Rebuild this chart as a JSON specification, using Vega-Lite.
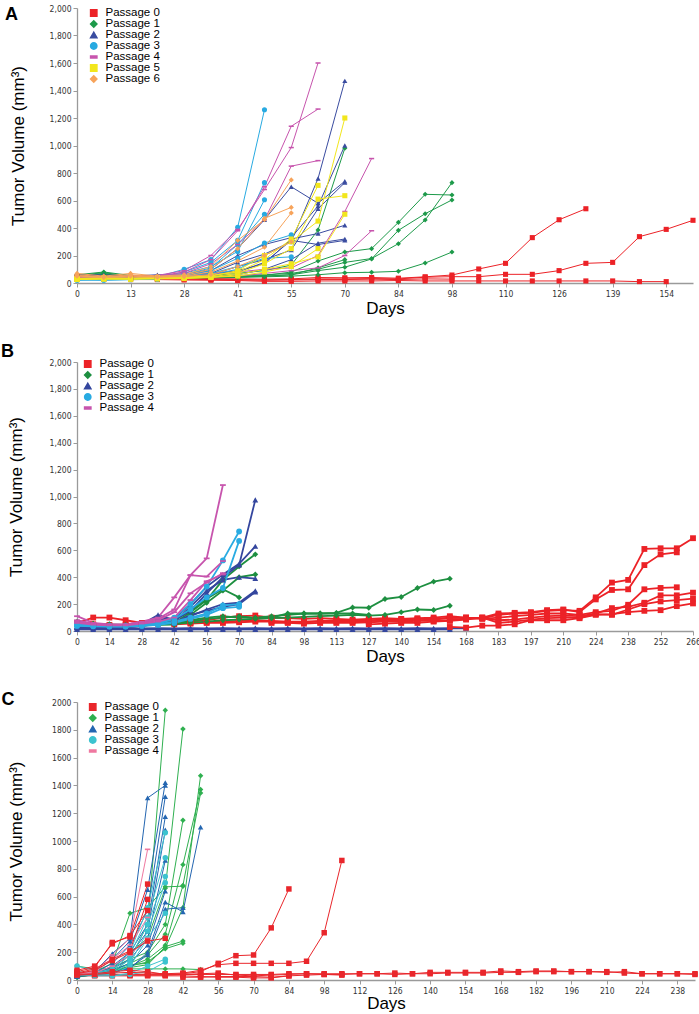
{
"$schema":"https://vega.github.io/schema/vega-lite/v6.json",
"padding":{"left":1,"top":4,"right":4,"bottom":0},
"background":"white",
"config":{"font":"Liberation Sans","view":{"stroke":null},
"axis":{"domainColor":"#9a9a9a","domainWidth":1.3,"tickColor":"#9a9a9a","tickSize":4,"labelFontSize":8.5,"labelColor":"#333","labelFont":"Liberation Sans Narrow, DejaVu Sans Condensed, Liberation Sans","titleFontSize":17,"titleFont":"Liberation Sans","titleFontWeight":"normal","titleColor":"#000","grid":false,"labelPadding":2},
"legend":{"labelFontSize":11.5,"labelFont":"Liberation Sans","labelColor":"#000","symbolSize":40,"rowPadding":-1,"clipHeight":10,"padding":0,"labelOffset":6,"orient":"none"},
"title":{"fontSize":18,"fontWeight":"bold","anchor":"start","frame":"bounds","color":"#000"}},
"spacing":26,
"resolve":{"scale":{"color":"independent","shape":"independent"},"legend":{"color":"independent","shape":"independent"}},
"datasets":{
"A":[
{"s":"r1","p":0,"d":0,"v":45},{"s":"r1","p":0,"d":7,"v":40},{"s":"r1","p":0,"d":13,"v":38},{"s":"r1","p":0,"d":20,"v":40},{"s":"r1","p":0,"d":28,"v":35},{"s":"r1","p":0,"d":35,"v":32},{"s":"r1","p":0,"d":41,"v":30},{"s":"r1","p":0,"d":48,"v":28},{"s":"r1","p":0,"d":55,"v":30},{"s":"r1","p":0,"d":63,"v":40},{"s":"r1","p":0,"d":70,"v":38},{"s":"r1","p":0,"d":77,"v":40},{"s":"r1","p":0,"d":84,"v":35},{"s":"r1","p":0,"d":91,"v":45},{"s":"r1","p":0,"d":98,"v":58},{"s":"r1","p":0,"d":105,"v":102},{"s":"r1","p":0,"d":110,"v":143},{"s":"r1","p":0,"d":118,"v":330},{"s":"r1","p":0,"d":126,"v":460},{"s":"r1","p":0,"d":133,"v":540},
{"s":"r2","p":0,"d":0,"v":40},{"s":"r2","p":0,"d":7,"v":35},{"s":"r2","p":0,"d":13,"v":32},{"s":"r2","p":0,"d":20,"v":35},{"s":"r2","p":0,"d":28,"v":30},{"s":"r2","p":0,"d":35,"v":28},{"s":"r2","p":0,"d":41,"v":25},{"s":"r2","p":0,"d":48,"v":22},{"s":"r2","p":0,"d":55,"v":25},{"s":"r2","p":0,"d":63,"v":30},{"s":"r2","p":0,"d":70,"v":30},{"s":"r2","p":0,"d":77,"v":32},{"s":"r2","p":0,"d":84,"v":30},{"s":"r2","p":0,"d":91,"v":42},{"s":"r2","p":0,"d":98,"v":46},{"s":"r2","p":0,"d":105,"v":46},{"s":"r2","p":0,"d":110,"v":63},{"s":"r2","p":0,"d":118,"v":63},{"s":"r2","p":0,"d":126,"v":90},{"s":"r2","p":0,"d":133,"v":143},{"s":"r2","p":0,"d":139,"v":150},{"s":"r2","p":0,"d":147,"v":337},{"s":"r2","p":0,"d":154,"v":390},{"s":"r2","p":0,"d":161,"v":456},
{"s":"r3","p":0,"d":0,"v":30},{"s":"r3","p":0,"d":7,"v":28},{"s":"r3","p":0,"d":13,"v":25},{"s":"r3","p":0,"d":20,"v":25},{"s":"r3","p":0,"d":28,"v":22},{"s":"r3","p":0,"d":35,"v":20},{"s":"r3","p":0,"d":41,"v":18},{"s":"r3","p":0,"d":48,"v":12},{"s":"r3","p":0,"d":55,"v":12},{"s":"r3","p":0,"d":63,"v":15},{"s":"r3","p":0,"d":70,"v":15},{"s":"r3","p":0,"d":77,"v":15},{"s":"r3","p":0,"d":84,"v":18},{"s":"r3","p":0,"d":91,"v":15},{"s":"r3","p":0,"d":98,"v":15},{"s":"r3","p":0,"d":105,"v":15},{"s":"r3","p":0,"d":110,"v":15},{"s":"r3","p":0,"d":118,"v":15},{"s":"r3","p":0,"d":126,"v":15},{"s":"r3","p":0,"d":133,"v":15},{"s":"r3","p":0,"d":139,"v":15},{"s":"r3","p":0,"d":147,"v":10},{"s":"r3","p":0,"d":154,"v":10},
{"s":"r4","p":0,"d":0,"v":35},{"s":"r4","p":0,"d":7,"v":30},{"s":"r4","p":0,"d":13,"v":30},{"s":"r4","p":0,"d":20,"v":30},{"s":"r4","p":0,"d":28,"v":28},{"s":"r4","p":0,"d":35,"v":25},{"s":"r4","p":0,"d":41,"v":22},{"s":"r4","p":0,"d":48,"v":20},{"s":"r4","p":0,"d":55,"v":22},{"s":"r4","p":0,"d":63,"v":25},{"s":"r4","p":0,"d":70,"v":25},{"s":"r4","p":0,"d":77,"v":28},{"s":"r4","p":0,"d":84,"v":25},{"s":"r4","p":0,"d":91,"v":30},{"s":"r4","p":0,"d":98,"v":28},
{"s":"g1","p":1,"d":0,"v":60},{"s":"g1","p":1,"d":7,"v":80},{"s":"g1","p":1,"d":13,"v":55},{"s":"g1","p":1,"d":20,"v":50},{"s":"g1","p":1,"d":28,"v":45},{"s":"g1","p":1,"d":35,"v":50},{"s":"g1","p":1,"d":41,"v":55},{"s":"g1","p":1,"d":48,"v":60},{"s":"g1","p":1,"d":55,"v":70},{"s":"g1","p":1,"d":63,"v":100},{"s":"g1","p":1,"d":70,"v":150},{"s":"g1","p":1,"d":77,"v":178},{"s":"g1","p":1,"d":84,"v":286},{"s":"g1","p":1,"d":91,"v":458},{"s":"g1","p":1,"d":98,"v":730},
{"s":"g2","p":1,"d":0,"v":55},{"s":"g2","p":1,"d":7,"v":75},{"s":"g2","p":1,"d":13,"v":50},{"s":"g2","p":1,"d":20,"v":45},{"s":"g2","p":1,"d":28,"v":40},{"s":"g2","p":1,"d":35,"v":45},{"s":"g2","p":1,"d":41,"v":50},{"s":"g2","p":1,"d":48,"v":55},{"s":"g2","p":1,"d":55,"v":80},{"s":"g2","p":1,"d":63,"v":160},{"s":"g2","p":1,"d":70,"v":225},{"s":"g2","p":1,"d":77,"v":250},{"s":"g2","p":1,"d":84,"v":441},{"s":"g2","p":1,"d":91,"v":645},{"s":"g2","p":1,"d":98,"v":640},
{"s":"g3","p":1,"d":0,"v":50},{"s":"g3","p":1,"d":7,"v":70},{"s":"g3","p":1,"d":13,"v":48},{"s":"g3","p":1,"d":20,"v":42},{"s":"g3","p":1,"d":28,"v":38},{"s":"g3","p":1,"d":35,"v":40},{"s":"g3","p":1,"d":41,"v":45},{"s":"g3","p":1,"d":48,"v":50},{"s":"g3","p":1,"d":55,"v":60},{"s":"g3","p":1,"d":63,"v":90},{"s":"g3","p":1,"d":70,"v":115},{"s":"g3","p":1,"d":77,"v":175},{"s":"g3","p":1,"d":84,"v":383},{"s":"g3","p":1,"d":91,"v":504},{"s":"g3","p":1,"d":98,"v":604},
{"s":"g4","p":1,"d":0,"v":45},{"s":"g4","p":1,"d":7,"v":60},{"s":"g4","p":1,"d":13,"v":45},{"s":"g4","p":1,"d":20,"v":40},{"s":"g4","p":1,"d":28,"v":35},{"s":"g4","p":1,"d":35,"v":38},{"s":"g4","p":1,"d":41,"v":40},{"s":"g4","p":1,"d":48,"v":45},{"s":"g4","p":1,"d":55,"v":50},{"s":"g4","p":1,"d":63,"v":60},{"s":"g4","p":1,"d":70,"v":75},{"s":"g4","p":1,"d":77,"v":78},{"s":"g4","p":1,"d":84,"v":85},{"s":"g4","p":1,"d":91,"v":145},{"s":"g4","p":1,"d":98,"v":225},
{"s":"g5","p":1,"d":0,"v":50},{"s":"g5","p":1,"d":7,"v":65},{"s":"g5","p":1,"d":13,"v":50},{"s":"g5","p":1,"d":20,"v":45},{"s":"g5","p":1,"d":28,"v":45},{"s":"g5","p":1,"d":35,"v":55},{"s":"g5","p":1,"d":41,"v":70},{"s":"g5","p":1,"d":48,"v":90},{"s":"g5","p":1,"d":55,"v":130},{"s":"g5","p":1,"d":63,"v":385},{"s":"g5","p":1,"d":70,"v":980},
{"s":"g6","p":1,"d":0,"v":40},{"s":"g6","p":1,"d":7,"v":55},{"s":"g6","p":1,"d":13,"v":42},{"s":"g6","p":1,"d":20,"v":40},{"s":"g6","p":1,"d":28,"v":38},{"s":"g6","p":1,"d":35,"v":40},{"s":"g6","p":1,"d":41,"v":45},{"s":"g6","p":1,"d":48,"v":50},{"s":"g6","p":1,"d":55,"v":60},{"s":"g6","p":1,"d":63,"v":110},{"s":"g6","p":1,"d":70,"v":170},
{"s":"b1","p":2,"d":0,"v":55},{"s":"b1","p":2,"d":7,"v":60},{"s":"b1","p":2,"d":13,"v":50},{"s":"b1","p":2,"d":20,"v":55},{"s":"b1","p":2,"d":28,"v":50},{"s":"b1","p":2,"d":35,"v":70},{"s":"b1","p":2,"d":41,"v":150},{"s":"b1","p":2,"d":48,"v":210},{"s":"b1","p":2,"d":55,"v":300},{"s":"b1","p":2,"d":63,"v":760},{"s":"b1","p":2,"d":70,"v":1470},
{"s":"b2","p":2,"d":0,"v":60},{"s":"b2","p":2,"d":7,"v":55},{"s":"b2","p":2,"d":13,"v":50},{"s":"b2","p":2,"d":20,"v":60},{"s":"b2","p":2,"d":28,"v":55},{"s":"b2","p":2,"d":35,"v":90},{"s":"b2","p":2,"d":41,"v":200},{"s":"b2","p":2,"d":48,"v":280},{"s":"b2","p":2,"d":55,"v":330},{"s":"b2","p":2,"d":63,"v":560},{"s":"b2","p":2,"d":70,"v":1000},
{"s":"b3","p":2,"d":0,"v":50},{"s":"b3","p":2,"d":7,"v":55},{"s":"b3","p":2,"d":13,"v":45},{"s":"b3","p":2,"d":20,"v":55},{"s":"b3","p":2,"d":28,"v":60},{"s":"b3","p":2,"d":35,"v":100},{"s":"b3","p":2,"d":41,"v":250},{"s":"b3","p":2,"d":48,"v":460},{"s":"b3","p":2,"d":55,"v":700},{"s":"b3","p":2,"d":63,"v":580},{"s":"b3","p":2,"d":70,"v":740},
{"s":"b4","p":2,"d":0,"v":45},{"s":"b4","p":2,"d":7,"v":50},{"s":"b4","p":2,"d":13,"v":42},{"s":"b4","p":2,"d":20,"v":50},{"s":"b4","p":2,"d":28,"v":45},{"s":"b4","p":2,"d":35,"v":60},{"s":"b4","p":2,"d":41,"v":120},{"s":"b4","p":2,"d":48,"v":170},{"s":"b4","p":2,"d":55,"v":240},{"s":"b4","p":2,"d":63,"v":540},{"s":"b4","p":2,"d":70,"v":730},
{"s":"b5","p":2,"d":0,"v":52},{"s":"b5","p":2,"d":7,"v":48},{"s":"b5","p":2,"d":13,"v":45},{"s":"b5","p":2,"d":20,"v":48},{"s":"b5","p":2,"d":28,"v":50},{"s":"b5","p":2,"d":35,"v":65},{"s":"b5","p":2,"d":41,"v":90},{"s":"b5","p":2,"d":48,"v":140},{"s":"b5","p":2,"d":55,"v":320},{"s":"b5","p":2,"d":63,"v":360},{"s":"b5","p":2,"d":70,"v":420},
{"s":"b6","p":2,"d":0,"v":40},{"s":"b6","p":2,"d":7,"v":45},{"s":"b6","p":2,"d":13,"v":40},{"s":"b6","p":2,"d":20,"v":42},{"s":"b6","p":2,"d":28,"v":40},{"s":"b6","p":2,"d":35,"v":50},{"s":"b6","p":2,"d":41,"v":60},{"s":"b6","p":2,"d":48,"v":100},{"s":"b6","p":2,"d":55,"v":170},{"s":"b6","p":2,"d":63,"v":290},{"s":"b6","p":2,"d":70,"v":320},
{"s":"b7","p":2,"d":0,"v":48},{"s":"b7","p":2,"d":7,"v":52},{"s":"b7","p":2,"d":13,"v":44},{"s":"b7","p":2,"d":20,"v":46},{"s":"b7","p":2,"d":28,"v":55},{"s":"b7","p":2,"d":35,"v":75},{"s":"b7","p":2,"d":41,"v":80},{"s":"b7","p":2,"d":48,"v":150},{"s":"b7","p":2,"d":55,"v":310},{"s":"b7","p":2,"d":63,"v":280},{"s":"b7","p":2,"d":70,"v":310},
{"s":"c1","p":3,"d":0,"v":30},{"s":"c1","p":3,"d":7,"v":25},{"s":"c1","p":3,"d":13,"v":35},{"s":"c1","p":3,"d":20,"v":45},{"s":"c1","p":3,"d":28,"v":100},{"s":"c1","p":3,"d":35,"v":170},{"s":"c1","p":3,"d":41,"v":405},{"s":"c1","p":3,"d":48,"v":1260},
{"s":"c2","p":3,"d":0,"v":40},{"s":"c2","p":3,"d":7,"v":30},{"s":"c2","p":3,"d":13,"v":40},{"s":"c2","p":3,"d":20,"v":40},{"s":"c2","p":3,"d":28,"v":80},{"s":"c2","p":3,"d":35,"v":150},{"s":"c2","p":3,"d":41,"v":310},{"s":"c2","p":3,"d":48,"v":730},
{"s":"c3","p":3,"d":0,"v":35},{"s":"c3","p":3,"d":7,"v":30},{"s":"c3","p":3,"d":13,"v":35},{"s":"c3","p":3,"d":20,"v":40},{"s":"c3","p":3,"d":28,"v":70},{"s":"c3","p":3,"d":35,"v":120},{"s":"c3","p":3,"d":41,"v":230},{"s":"c3","p":3,"d":48,"v":605},
{"s":"c4","p":3,"d":0,"v":25},{"s":"c4","p":3,"d":7,"v":28},{"s":"c4","p":3,"d":13,"v":30},{"s":"c4","p":3,"d":20,"v":35},{"s":"c4","p":3,"d":28,"v":60},{"s":"c4","p":3,"d":35,"v":110},{"s":"c4","p":3,"d":41,"v":280},{"s":"c4","p":3,"d":48,"v":500},
{"s":"c5","p":3,"d":0,"v":20},{"s":"c5","p":3,"d":7,"v":25},{"s":"c5","p":3,"d":13,"v":28},{"s":"c5","p":3,"d":20,"v":30},{"s":"c5","p":3,"d":28,"v":55},{"s":"c5","p":3,"d":35,"v":90},{"s":"c5","p":3,"d":41,"v":180},{"s":"c5","p":3,"d":48,"v":290},{"s":"c5","p":3,"d":55,"v":350},
{"s":"c6","p":3,"d":0,"v":28},{"s":"c6","p":3,"d":7,"v":22},{"s":"c6","p":3,"d":13,"v":26},{"s":"c6","p":3,"d":20,"v":32},{"s":"c6","p":3,"d":28,"v":50},{"s":"c6","p":3,"d":35,"v":70},{"s":"c6","p":3,"d":41,"v":120},{"s":"c6","p":3,"d":48,"v":180},{"s":"c6","p":3,"d":55,"v":190},
{"s":"c7","p":3,"d":0,"v":22},{"s":"c7","p":3,"d":7,"v":20},{"s":"c7","p":3,"d":13,"v":24},{"s":"c7","p":3,"d":20,"v":28},{"s":"c7","p":3,"d":28,"v":45},{"s":"c7","p":3,"d":35,"v":60},{"s":"c7","p":3,"d":41,"v":100},{"s":"c7","p":3,"d":48,"v":200},{"s":"c7","p":3,"d":55,"v":300},
{"s":"p1","p":4,"d":0,"v":50},{"s":"p1","p":4,"d":7,"v":45},{"s":"p1","p":4,"d":13,"v":50},{"s":"p1","p":4,"d":20,"v":55},{"s":"p1","p":4,"d":28,"v":90},{"s":"p1","p":4,"d":35,"v":200},{"s":"p1","p":4,"d":41,"v":390},{"s":"p1","p":4,"d":48,"v":680},{"s":"p1","p":4,"d":55,"v":985},{"s":"p1","p":4,"d":63,"v":1600},
{"s":"p2","p":4,"d":0,"v":45},{"s":"p2","p":4,"d":7,"v":40},{"s":"p2","p":4,"d":13,"v":45},{"s":"p2","p":4,"d":20,"v":50},{"s":"p2","p":4,"d":28,"v":80},{"s":"p2","p":4,"d":35,"v":170},{"s":"p2","p":4,"d":41,"v":380},{"s":"p2","p":4,"d":48,"v":700},{"s":"p2","p":4,"d":55,"v":1140},{"s":"p2","p":4,"d":63,"v":1265},
{"s":"p3","p":4,"d":0,"v":40},{"s":"p3","p":4,"d":7,"v":38},{"s":"p3","p":4,"d":13,"v":42},{"s":"p3","p":4,"d":20,"v":48},{"s":"p3","p":4,"d":28,"v":70},{"s":"p3","p":4,"d":35,"v":140},{"s":"p3","p":4,"d":41,"v":280},{"s":"p3","p":4,"d":48,"v":460},{"s":"p3","p":4,"d":55,"v":850},{"s":"p3","p":4,"d":63,"v":890},
{"s":"p4","p":4,"d":0,"v":35},{"s":"p4","p":4,"d":7,"v":35},{"s":"p4","p":4,"d":13,"v":38},{"s":"p4","p":4,"d":20,"v":40},{"s":"p4","p":4,"d":28,"v":45},{"s":"p4","p":4,"d":35,"v":60},{"s":"p4","p":4,"d":41,"v":80},{"s":"p4","p":4,"d":48,"v":100},{"s":"p4","p":4,"d":55,"v":110},{"s":"p4","p":4,"d":63,"v":200},{"s":"p4","p":4,"d":70,"v":520},{"s":"p4","p":4,"d":77,"v":905},
{"s":"p5","p":4,"d":0,"v":30},{"s":"p5","p":4,"d":7,"v":32},{"s":"p5","p":4,"d":13,"v":35},{"s":"p5","p":4,"d":20,"v":38},{"s":"p5","p":4,"d":28,"v":40},{"s":"p5","p":4,"d":35,"v":45},{"s":"p5","p":4,"d":41,"v":50},{"s":"p5","p":4,"d":48,"v":70},{"s":"p5","p":4,"d":55,"v":90},{"s":"p5","p":4,"d":63,"v":110},{"s":"p5","p":4,"d":70,"v":200},{"s":"p5","p":4,"d":77,"v":380},
{"s":"y1","p":5,"d":0,"v":35},{"s":"y1","p":5,"d":7,"v":38},{"s":"y1","p":5,"d":13,"v":36},{"s":"y1","p":5,"d":20,"v":40},{"s":"y1","p":5,"d":28,"v":42},{"s":"y1","p":5,"d":35,"v":50},{"s":"y1","p":5,"d":41,"v":90},{"s":"y1","p":5,"d":48,"v":200},{"s":"y1","p":5,"d":55,"v":300},{"s":"y1","p":5,"d":63,"v":450},{"s":"y1","p":5,"d":70,"v":1200},
{"s":"y2","p":5,"d":0,"v":30},{"s":"y2","p":5,"d":7,"v":32},{"s":"y2","p":5,"d":13,"v":30},{"s":"y2","p":5,"d":20,"v":35},{"s":"y2","p":5,"d":28,"v":38},{"s":"y2","p":5,"d":35,"v":45},{"s":"y2","p":5,"d":41,"v":70},{"s":"y2","p":5,"d":48,"v":140},{"s":"y2","p":5,"d":55,"v":250},{"s":"y2","p":5,"d":63,"v":610},{"s":"y2","p":5,"d":70,"v":635},
{"s":"y3","p":5,"d":0,"v":25},{"s":"y3","p":5,"d":7,"v":28},{"s":"y3","p":5,"d":13,"v":27},{"s":"y3","p":5,"d":20,"v":30},{"s":"y3","p":5,"d":28,"v":32},{"s":"y3","p":5,"d":35,"v":40},{"s":"y3","p":5,"d":41,"v":60},{"s":"y3","p":5,"d":48,"v":100},{"s":"y3","p":5,"d":55,"v":140},{"s":"y3","p":5,"d":63,"v":190},{"s":"y3","p":5,"d":70,"v":500},
{"s":"y4","p":5,"d":0,"v":32},{"s":"y4","p":5,"d":7,"v":35},{"s":"y4","p":5,"d":13,"v":33},{"s":"y4","p":5,"d":20,"v":36},{"s":"y4","p":5,"d":28,"v":40},{"s":"y4","p":5,"d":35,"v":55},{"s":"y4","p":5,"d":41,"v":80},{"s":"y4","p":5,"d":48,"v":170},{"s":"y4","p":5,"d":55,"v":320},{"s":"y4","p":5,"d":63,"v":710},
{"s":"y5","p":5,"d":0,"v":28},{"s":"y5","p":5,"d":7,"v":30},{"s":"y5","p":5,"d":13,"v":30},{"s":"y5","p":5,"d":20,"v":32},{"s":"y5","p":5,"d":28,"v":35},{"s":"y5","p":5,"d":35,"v":42},{"s":"y5","p":5,"d":41,"v":50},{"s":"y5","p":5,"d":48,"v":80},{"s":"y5","p":5,"d":55,"v":120},{"s":"y5","p":5,"d":63,"v":250},
{"s":"o1","p":6,"d":0,"v":70},{"s":"o1","p":6,"d":7,"v":50},{"s":"o1","p":6,"d":13,"v":70},{"s":"o1","p":6,"d":20,"v":50},{"s":"o1","p":6,"d":28,"v":60},{"s":"o1","p":6,"d":35,"v":120},{"s":"o1","p":6,"d":41,"v":310},{"s":"o1","p":6,"d":48,"v":460},{"s":"o1","p":6,"d":55,"v":750},
{"s":"o2","p":6,"d":0,"v":60},{"s":"o2","p":6,"d":7,"v":45},{"s":"o2","p":6,"d":13,"v":60},{"s":"o2","p":6,"d":20,"v":45},{"s":"o2","p":6,"d":28,"v":55},{"s":"o2","p":6,"d":35,"v":100},{"s":"o2","p":6,"d":41,"v":250},{"s":"o2","p":6,"d":48,"v":470},{"s":"o2","p":6,"d":55,"v":550},
{"s":"o3","p":6,"d":0,"v":55},{"s":"o3","p":6,"d":7,"v":40},{"s":"o3","p":6,"d":13,"v":55},{"s":"o3","p":6,"d":20,"v":45},{"s":"o3","p":6,"d":28,"v":50},{"s":"o3","p":6,"d":35,"v":80},{"s":"o3","p":6,"d":41,"v":160},{"s":"o3","p":6,"d":48,"v":260},{"s":"o3","p":6,"d":55,"v":510},
{"s":"o4","p":6,"d":0,"v":50},{"s":"o4","p":6,"d":7,"v":42},{"s":"o4","p":6,"d":13,"v":50},{"s":"o4","p":6,"d":20,"v":42},{"s":"o4","p":6,"d":28,"v":48},{"s":"o4","p":6,"d":35,"v":60},{"s":"o4","p":6,"d":41,"v":120},{"s":"o4","p":6,"d":48,"v":200},{"s":"o4","p":6,"d":55,"v":300}
],
"B":[
{"s":"b5","p":2,"d":0,"v":22},{"s":"b5","p":2,"d":7,"v":20},{"s":"b5","p":2,"d":14,"v":20},{"s":"b5","p":2,"d":21,"v":22},{"s":"b5","p":2,"d":28,"v":20},{"s":"b5","p":2,"d":35,"v":22},{"s":"b5","p":2,"d":42,"v":20},{"s":"b5","p":2,"d":49,"v":22},{"s":"b5","p":2,"d":56,"v":20},{"s":"b5","p":2,"d":63,"v":22},{"s":"b5","p":2,"d":70,"v":20},{"s":"b5","p":2,"d":77,"v":22},{"s":"b5","p":2,"d":84,"v":20},{"s":"b5","p":2,"d":91,"v":22},{"s":"b5","p":2,"d":98,"v":20},{"s":"b5","p":2,"d":105,"v":22},{"s":"b5","p":2,"d":113,"v":20},{"s":"b5","p":2,"d":120,"v":22},{"s":"b5","p":2,"d":127,"v":20},{"s":"b5","p":2,"d":134,"v":22},{"s":"b5","p":2,"d":140,"v":20},{"s":"b5","p":2,"d":147,"v":22},{"s":"b5","p":2,"d":154,"v":20},{"s":"b5","p":2,"d":161,"v":22},{"s":"b5","p":2,"d":168,"v":20},
{"s":"b6","p":2,"d":0,"v":12},{"s":"b6","p":2,"d":7,"v":12},{"s":"b6","p":2,"d":14,"v":12},{"s":"b6","p":2,"d":21,"v":12},{"s":"b6","p":2,"d":28,"v":12},{"s":"b6","p":2,"d":35,"v":12},{"s":"b6","p":2,"d":42,"v":12},{"s":"b6","p":2,"d":49,"v":12},{"s":"b6","p":2,"d":56,"v":12},{"s":"b6","p":2,"d":63,"v":12},{"s":"b6","p":2,"d":70,"v":12},{"s":"b6","p":2,"d":77,"v":12},{"s":"b6","p":2,"d":84,"v":12},{"s":"b6","p":2,"d":91,"v":12},{"s":"b6","p":2,"d":98,"v":12},{"s":"b6","p":2,"d":105,"v":12},{"s":"b6","p":2,"d":113,"v":12},{"s":"b6","p":2,"d":120,"v":12},{"s":"b6","p":2,"d":127,"v":12},{"s":"b6","p":2,"d":134,"v":12},{"s":"b6","p":2,"d":140,"v":12},{"s":"b6","p":2,"d":147,"v":12},{"s":"b6","p":2,"d":154,"v":12},{"s":"b6","p":2,"d":161,"v":12},
{"s":"r1","p":0,"d":0,"v":60},{"s":"r1","p":0,"d":7,"v":100},{"s":"r1","p":0,"d":14,"v":100},{"s":"r1","p":0,"d":21,"v":80},{"s":"r1","p":0,"d":28,"v":60},{"s":"r1","p":0,"d":35,"v":60},{"s":"r1","p":0,"d":42,"v":65},{"s":"r1","p":0,"d":49,"v":70},{"s":"r1","p":0,"d":56,"v":80},{"s":"r1","p":0,"d":63,"v":100},{"s":"r1","p":0,"d":70,"v":110},{"s":"r1","p":0,"d":77,"v":115},{"s":"r1","p":0,"d":84,"v":100},{"s":"r1","p":0,"d":91,"v":95},{"s":"r1","p":0,"d":98,"v":90},{"s":"r1","p":0,"d":105,"v":95},{"s":"r1","p":0,"d":113,"v":90},{"s":"r1","p":0,"d":120,"v":85},{"s":"r1","p":0,"d":127,"v":90},{"s":"r1","p":0,"d":134,"v":95},{"s":"r1","p":0,"d":140,"v":90},{"s":"r1","p":0,"d":147,"v":95},{"s":"r1","p":0,"d":154,"v":100},{"s":"r1","p":0,"d":161,"v":110},{"s":"r1","p":0,"d":168,"v":100},{"s":"r1","p":0,"d":176,"v":95},{"s":"r1","p":0,"d":183,"v":120},{"s":"r1","p":0,"d":190,"v":130},{"s":"r1","p":0,"d":197,"v":135},{"s":"r1","p":0,"d":204,"v":150},{"s":"r1","p":0,"d":210,"v":155},{"s":"r1","p":0,"d":217,"v":150},{"s":"r1","p":0,"d":224,"v":250},{"s":"r1","p":0,"d":231,"v":360},{"s":"r1","p":0,"d":238,"v":380},{"s":"r1","p":0,"d":245,"v":610},{"s":"r1","p":0,"d":252,"v":615},{"s":"r1","p":0,"d":259,"v":615},{"s":"r1","p":0,"d":266,"v":690},
{"s":"r2","p":0,"d":0,"v":55},{"s":"r2","p":0,"d":7,"v":50},{"s":"r2","p":0,"d":14,"v":45},{"s":"r2","p":0,"d":21,"v":45},{"s":"r2","p":0,"d":28,"v":50},{"s":"r2","p":0,"d":35,"v":55},{"s":"r2","p":0,"d":42,"v":60},{"s":"r2","p":0,"d":49,"v":60},{"s":"r2","p":0,"d":56,"v":65},{"s":"r2","p":0,"d":63,"v":70},{"s":"r2","p":0,"d":70,"v":75},{"s":"r2","p":0,"d":77,"v":80},{"s":"r2","p":0,"d":84,"v":75},{"s":"r2","p":0,"d":91,"v":70},{"s":"r2","p":0,"d":98,"v":70},{"s":"r2","p":0,"d":105,"v":75},{"s":"r2","p":0,"d":113,"v":80},{"s":"r2","p":0,"d":120,"v":75},{"s":"r2","p":0,"d":127,"v":80},{"s":"r2","p":0,"d":134,"v":85},{"s":"r2","p":0,"d":140,"v":85},{"s":"r2","p":0,"d":147,"v":90},{"s":"r2","p":0,"d":154,"v":90},{"s":"r2","p":0,"d":161,"v":100},{"s":"r2","p":0,"d":168,"v":95},{"s":"r2","p":0,"d":176,"v":100},{"s":"r2","p":0,"d":183,"v":130},{"s":"r2","p":0,"d":190,"v":135},{"s":"r2","p":0,"d":197,"v":140},{"s":"r2","p":0,"d":204,"v":155},{"s":"r2","p":0,"d":210,"v":160},{"s":"r2","p":0,"d":217,"v":140},{"s":"r2","p":0,"d":224,"v":235},{"s":"r2","p":0,"d":231,"v":305},{"s":"r2","p":0,"d":238,"v":310},{"s":"r2","p":0,"d":245,"v":490},{"s":"r2","p":0,"d":252,"v":570},{"s":"r2","p":0,"d":259,"v":585},
{"s":"r3","p":0,"d":42,"v":50},{"s":"r3","p":0,"d":49,"v":55},{"s":"r3","p":0,"d":56,"v":60},{"s":"r3","p":0,"d":63,"v":60},{"s":"r3","p":0,"d":70,"v":65},{"s":"r3","p":0,"d":77,"v":70},{"s":"r3","p":0,"d":84,"v":70},{"s":"r3","p":0,"d":91,"v":65},{"s":"r3","p":0,"d":98,"v":65},{"s":"r3","p":0,"d":105,"v":70},{"s":"r3","p":0,"d":113,"v":70},{"s":"r3","p":0,"d":120,"v":70},{"s":"r3","p":0,"d":127,"v":75},{"s":"r3","p":0,"d":134,"v":75},{"s":"r3","p":0,"d":140,"v":80},{"s":"r3","p":0,"d":147,"v":80},{"s":"r3","p":0,"d":154,"v":85},{"s":"r3","p":0,"d":161,"v":95},{"s":"r3","p":0,"d":168,"v":100},{"s":"r3","p":0,"d":176,"v":90},{"s":"r3","p":0,"d":183,"v":100},{"s":"r3","p":0,"d":190,"v":110},{"s":"r3","p":0,"d":197,"v":120},{"s":"r3","p":0,"d":204,"v":130},{"s":"r3","p":0,"d":210,"v":130},{"s":"r3","p":0,"d":217,"v":120},{"s":"r3","p":0,"d":224,"v":140},{"s":"r3","p":0,"d":231,"v":150},{"s":"r3","p":0,"d":238,"v":195},{"s":"r3","p":0,"d":245,"v":310},{"s":"r3","p":0,"d":252,"v":320},{"s":"r3","p":0,"d":259,"v":325},
{"s":"r4","p":0,"d":84,"v":60},{"s":"r4","p":0,"d":91,"v":60},{"s":"r4","p":0,"d":98,"v":55},{"s":"r4","p":0,"d":105,"v":60},{"s":"r4","p":0,"d":113,"v":60},{"s":"r4","p":0,"d":120,"v":60},{"s":"r4","p":0,"d":127,"v":65},{"s":"r4","p":0,"d":134,"v":70},{"s":"r4","p":0,"d":140,"v":70},{"s":"r4","p":0,"d":147,"v":75},{"s":"r4","p":0,"d":154,"v":75},{"s":"r4","p":0,"d":161,"v":80},{"s":"r4","p":0,"d":168,"v":90},{"s":"r4","p":0,"d":176,"v":95},{"s":"r4","p":0,"d":183,"v":80},{"s":"r4","p":0,"d":190,"v":85},{"s":"r4","p":0,"d":197,"v":100},{"s":"r4","p":0,"d":204,"v":110},{"s":"r4","p":0,"d":210,"v":115},{"s":"r4","p":0,"d":217,"v":110},{"s":"r4","p":0,"d":224,"v":130},{"s":"r4","p":0,"d":231,"v":170},{"s":"r4","p":0,"d":238,"v":180},{"s":"r4","p":0,"d":245,"v":210},{"s":"r4","p":0,"d":252,"v":265},{"s":"r4","p":0,"d":259,"v":265},{"s":"r4","p":0,"d":266,"v":285},
{"s":"r5","p":0,"d":127,"v":50},{"s":"r5","p":0,"d":134,"v":55},{"s":"r5","p":0,"d":140,"v":60},{"s":"r5","p":0,"d":147,"v":60},{"s":"r5","p":0,"d":154,"v":70},{"s":"r5","p":0,"d":161,"v":75},{"s":"r5","p":0,"d":168,"v":85},{"s":"r5","p":0,"d":176,"v":100},{"s":"r5","p":0,"d":183,"v":60},{"s":"r5","p":0,"d":190,"v":70},{"s":"r5","p":0,"d":197,"v":85},{"s":"r5","p":0,"d":204,"v":95},{"s":"r5","p":0,"d":210,"v":100},{"s":"r5","p":0,"d":217,"v":100},{"s":"r5","p":0,"d":224,"v":125},{"s":"r5","p":0,"d":231,"v":120},{"s":"r5","p":0,"d":238,"v":160},{"s":"r5","p":0,"d":245,"v":200},{"s":"r5","p":0,"d":252,"v":220},{"s":"r5","p":0,"d":259,"v":230},{"s":"r5","p":0,"d":266,"v":240},
{"s":"r6","p":0,"d":161,"v":30},{"s":"r6","p":0,"d":168,"v":25},{"s":"r6","p":0,"d":176,"v":40},{"s":"r6","p":0,"d":183,"v":40},{"s":"r6","p":0,"d":190,"v":50},{"s":"r6","p":0,"d":197,"v":80},{"s":"r6","p":0,"d":204,"v":80},{"s":"r6","p":0,"d":210,"v":80},{"s":"r6","p":0,"d":217,"v":95},{"s":"r6","p":0,"d":224,"v":120},{"s":"r6","p":0,"d":231,"v":125},{"s":"r6","p":0,"d":238,"v":140},{"s":"r6","p":0,"d":245,"v":150},{"s":"r6","p":0,"d":252,"v":155},{"s":"r6","p":0,"d":259,"v":185},{"s":"r6","p":0,"d":266,"v":205},
{"s":"g1","p":1,"d":0,"v":70},{"s":"g1","p":1,"d":7,"v":55},{"s":"g1","p":1,"d":14,"v":50},{"s":"g1","p":1,"d":21,"v":45},{"s":"g1","p":1,"d":28,"v":45},{"s":"g1","p":1,"d":35,"v":50},{"s":"g1","p":1,"d":42,"v":60},{"s":"g1","p":1,"d":49,"v":80},{"s":"g1","p":1,"d":56,"v":100},{"s":"g1","p":1,"d":63,"v":110},{"s":"g1","p":1,"d":70,"v":100},{"s":"g1","p":1,"d":77,"v":100},{"s":"g1","p":1,"d":84,"v":110},{"s":"g1","p":1,"d":91,"v":120},{"s":"g1","p":1,"d":98,"v":130},{"s":"g1","p":1,"d":105,"v":130},{"s":"g1","p":1,"d":113,"v":135},{"s":"g1","p":1,"d":120,"v":175},{"s":"g1","p":1,"d":127,"v":173},{"s":"g1","p":1,"d":134,"v":238},{"s":"g1","p":1,"d":140,"v":253},{"s":"g1","p":1,"d":147,"v":320},{"s":"g1","p":1,"d":154,"v":367},{"s":"g1","p":1,"d":161,"v":389},
{"s":"g2","p":1,"d":0,"v":60},{"s":"g2","p":1,"d":7,"v":50},{"s":"g2","p":1,"d":14,"v":45},{"s":"g2","p":1,"d":21,"v":40},{"s":"g2","p":1,"d":28,"v":45},{"s":"g2","p":1,"d":35,"v":50},{"s":"g2","p":1,"d":42,"v":55},{"s":"g2","p":1,"d":49,"v":60},{"s":"g2","p":1,"d":56,"v":70},{"s":"g2","p":1,"d":63,"v":80},{"s":"g2","p":1,"d":70,"v":85},{"s":"g2","p":1,"d":77,"v":90},{"s":"g2","p":1,"d":84,"v":95},{"s":"g2","p":1,"d":91,"v":100},{"s":"g2","p":1,"d":98,"v":105},{"s":"g2","p":1,"d":105,"v":110},{"s":"g2","p":1,"d":113,"v":115},{"s":"g2","p":1,"d":120,"v":120},{"s":"g2","p":1,"d":127,"v":115},{"s":"g2","p":1,"d":134,"v":120},{"s":"g2","p":1,"d":140,"v":140},{"s":"g2","p":1,"d":147,"v":160},{"s":"g2","p":1,"d":154,"v":156},{"s":"g2","p":1,"d":161,"v":188},
{"s":"g3","p":1,"d":0,"v":50},{"s":"g3","p":1,"d":7,"v":45},{"s":"g3","p":1,"d":14,"v":40},{"s":"g3","p":1,"d":21,"v":40},{"s":"g3","p":1,"d":28,"v":45},{"s":"g3","p":1,"d":35,"v":60},{"s":"g3","p":1,"d":42,"v":60},{"s":"g3","p":1,"d":49,"v":140},{"s":"g3","p":1,"d":56,"v":230},{"s":"g3","p":1,"d":63,"v":380},{"s":"g3","p":1,"d":70,"v":480},{"s":"g3","p":1,"d":77,"v":570},
{"s":"g4","p":1,"d":0,"v":45},{"s":"g4","p":1,"d":7,"v":40},{"s":"g4","p":1,"d":14,"v":38},{"s":"g4","p":1,"d":21,"v":40},{"s":"g4","p":1,"d":28,"v":40},{"s":"g4","p":1,"d":35,"v":50},{"s":"g4","p":1,"d":42,"v":50},{"s":"g4","p":1,"d":49,"v":120},{"s":"g4","p":1,"d":56,"v":210},{"s":"g4","p":1,"d":63,"v":300},{"s":"g4","p":1,"d":70,"v":400},{"s":"g4","p":1,"d":77,"v":420},
{"s":"g5","p":1,"d":0,"v":40},{"s":"g5","p":1,"d":7,"v":38},{"s":"g5","p":1,"d":14,"v":35},{"s":"g5","p":1,"d":21,"v":35},{"s":"g5","p":1,"d":28,"v":40},{"s":"g5","p":1,"d":35,"v":55},{"s":"g5","p":1,"d":42,"v":80},{"s":"g5","p":1,"d":49,"v":150},{"s":"g5","p":1,"d":56,"v":240},{"s":"g5","p":1,"d":63,"v":310},{"s":"g5","p":1,"d":70,"v":250},
{"s":"g6","p":1,"d":0,"v":35},{"s":"g6","p":1,"d":7,"v":35},{"s":"g6","p":1,"d":14,"v":35},{"s":"g6","p":1,"d":21,"v":35},{"s":"g6","p":1,"d":28,"v":40},{"s":"g6","p":1,"d":35,"v":45},{"s":"g6","p":1,"d":42,"v":50},{"s":"g6","p":1,"d":49,"v":70},{"s":"g6","p":1,"d":56,"v":90},{"s":"g6","p":1,"d":63,"v":100},{"s":"g6","p":1,"d":70,"v":110},{"s":"g6","p":1,"d":77,"v":95},{"s":"g6","p":1,"d":84,"v":100},{"s":"g6","p":1,"d":91,"v":130},{"s":"g6","p":1,"d":98,"v":130},{"s":"g6","p":1,"d":105,"v":130},{"s":"g6","p":1,"d":113,"v":130},{"s":"g6","p":1,"d":120,"v":130},{"s":"g6","p":1,"d":127,"v":120},
{"s":"b1","p":2,"d":0,"v":30},{"s":"b1","p":2,"d":7,"v":30},{"s":"b1","p":2,"d":14,"v":30},{"s":"b1","p":2,"d":21,"v":30},{"s":"b1","p":2,"d":28,"v":50},{"s":"b1","p":2,"d":35,"v":120},{"s":"b1","p":2,"d":42,"v":80},{"s":"b1","p":2,"d":49,"v":150},{"s":"b1","p":2,"d":56,"v":280},{"s":"b1","p":2,"d":63,"v":400},{"s":"b1","p":2,"d":70,"v":490},{"s":"b1","p":2,"d":77,"v":975},
{"s":"b2","p":2,"d":0,"v":35},{"s":"b2","p":2,"d":7,"v":30},{"s":"b2","p":2,"d":14,"v":30},{"s":"b2","p":2,"d":21,"v":32},{"s":"b2","p":2,"d":28,"v":55},{"s":"b2","p":2,"d":35,"v":100},{"s":"b2","p":2,"d":42,"v":90},{"s":"b2","p":2,"d":49,"v":200},{"s":"b2","p":2,"d":56,"v":330},{"s":"b2","p":2,"d":63,"v":420},{"s":"b2","p":2,"d":70,"v":500},{"s":"b2","p":2,"d":77,"v":630},
{"s":"b3","p":2,"d":0,"v":28},{"s":"b3","p":2,"d":7,"v":28},{"s":"b3","p":2,"d":14,"v":28},{"s":"b3","p":2,"d":21,"v":30},{"s":"b3","p":2,"d":28,"v":45},{"s":"b3","p":2,"d":35,"v":90},{"s":"b3","p":2,"d":42,"v":70},{"s":"b3","p":2,"d":49,"v":180},{"s":"b3","p":2,"d":56,"v":300},{"s":"b3","p":2,"d":63,"v":380},{"s":"b3","p":2,"d":70,"v":400},{"s":"b3","p":2,"d":77,"v":390},
{"s":"b4","p":2,"d":0,"v":25},{"s":"b4","p":2,"d":7,"v":25},{"s":"b4","p":2,"d":14,"v":25},{"s":"b4","p":2,"d":21,"v":28},{"s":"b4","p":2,"d":28,"v":40},{"s":"b4","p":2,"d":35,"v":60},{"s":"b4","p":2,"d":42,"v":60},{"s":"b4","p":2,"d":49,"v":120},{"s":"b4","p":2,"d":56,"v":150},{"s":"b4","p":2,"d":63,"v":180},{"s":"b4","p":2,"d":70,"v":200},{"s":"b4","p":2,"d":77,"v":290},
{"s":"b7","p":2,"d":0,"v":30},{"s":"b7","p":2,"d":7,"v":28},{"s":"b7","p":2,"d":14,"v":26},{"s":"b7","p":2,"d":21,"v":28},{"s":"b7","p":2,"d":28,"v":38},{"s":"b7","p":2,"d":35,"v":55},{"s":"b7","p":2,"d":42,"v":65},{"s":"b7","p":2,"d":49,"v":110},{"s":"b7","p":2,"d":56,"v":160},{"s":"b7","p":2,"d":63,"v":200},{"s":"b7","p":2,"d":70,"v":210},{"s":"b7","p":2,"d":77,"v":300},
{"s":"c1","p":3,"d":0,"v":50},{"s":"c1","p":3,"d":7,"v":45},{"s":"c1","p":3,"d":14,"v":40},{"s":"c1","p":3,"d":21,"v":40},{"s":"c1","p":3,"d":28,"v":45},{"s":"c1","p":3,"d":35,"v":60},{"s":"c1","p":3,"d":42,"v":100},{"s":"c1","p":3,"d":49,"v":200},{"s":"c1","p":3,"d":56,"v":330},{"s":"c1","p":3,"d":63,"v":525},{"s":"c1","p":3,"d":70,"v":740},
{"s":"c2","p":3,"d":0,"v":45},{"s":"c2","p":3,"d":7,"v":40},{"s":"c2","p":3,"d":14,"v":38},{"s":"c2","p":3,"d":21,"v":38},{"s":"c2","p":3,"d":28,"v":42},{"s":"c2","p":3,"d":35,"v":55},{"s":"c2","p":3,"d":42,"v":90},{"s":"c2","p":3,"d":49,"v":160},{"s":"c2","p":3,"d":56,"v":250},{"s":"c2","p":3,"d":63,"v":320},{"s":"c2","p":3,"d":70,"v":670},
{"s":"c3","p":3,"d":0,"v":40},{"s":"c3","p":3,"d":7,"v":38},{"s":"c3","p":3,"d":14,"v":35},{"s":"c3","p":3,"d":21,"v":35},{"s":"c3","p":3,"d":28,"v":40},{"s":"c3","p":3,"d":35,"v":50},{"s":"c3","p":3,"d":42,"v":70},{"s":"c3","p":3,"d":49,"v":100},{"s":"c3","p":3,"d":56,"v":130},{"s":"c3","p":3,"d":63,"v":190},{"s":"c3","p":3,"d":70,"v":200},
{"s":"c4","p":3,"d":0,"v":38},{"s":"c4","p":3,"d":7,"v":35},{"s":"c4","p":3,"d":14,"v":33},{"s":"c4","p":3,"d":21,"v":33},{"s":"c4","p":3,"d":28,"v":38},{"s":"c4","p":3,"d":35,"v":45},{"s":"c4","p":3,"d":42,"v":60},{"s":"c4","p":3,"d":49,"v":90},{"s":"c4","p":3,"d":56,"v":120},{"s":"c4","p":3,"d":63,"v":170},{"s":"c4","p":3,"d":70,"v":180},
{"s":"p1","p":4,"d":0,"v":110},{"s":"p1","p":4,"d":7,"v":60},{"s":"p1","p":4,"d":14,"v":50},{"s":"p1","p":4,"d":21,"v":50},{"s":"p1","p":4,"d":28,"v":70},{"s":"p1","p":4,"d":35,"v":100},{"s":"p1","p":4,"d":42,"v":250},{"s":"p1","p":4,"d":49,"v":415},{"s":"p1","p":4,"d":56,"v":540},{"s":"p1","p":4,"d":63,"v":1085},
{"s":"p2","p":4,"d":0,"v":80},{"s":"p2","p":4,"d":7,"v":55},{"s":"p2","p":4,"d":14,"v":48},{"s":"p2","p":4,"d":21,"v":48},{"s":"p2","p":4,"d":28,"v":65},{"s":"p2","p":4,"d":35,"v":90},{"s":"p2","p":4,"d":42,"v":160},{"s":"p2","p":4,"d":49,"v":415},{"s":"p2","p":4,"d":56,"v":405},{"s":"p2","p":4,"d":63,"v":520},
{"s":"p3","p":4,"d":0,"v":70},{"s":"p3","p":4,"d":7,"v":50},{"s":"p3","p":4,"d":14,"v":45},{"s":"p3","p":4,"d":21,"v":45},{"s":"p3","p":4,"d":28,"v":60},{"s":"p3","p":4,"d":35,"v":80},{"s":"p3","p":4,"d":42,"v":140},{"s":"p3","p":4,"d":49,"v":280},{"s":"p3","p":4,"d":56,"v":360},{"s":"p3","p":4,"d":63,"v":430},
{"s":"p4","p":4,"d":0,"v":60},{"s":"p4","p":4,"d":7,"v":48},{"s":"p4","p":4,"d":14,"v":42},{"s":"p4","p":4,"d":21,"v":42},{"s":"p4","p":4,"d":28,"v":55},{"s":"p4","p":4,"d":35,"v":70},{"s":"p4","p":4,"d":42,"v":100},{"s":"p4","p":4,"d":49,"v":230},{"s":"p4","p":4,"d":56,"v":370},{"s":"p4","p":4,"d":63,"v":420}
],
"C":[
{"s":"r7","p":0,"d":0,"v":40},{"s":"r7","p":0,"d":7,"v":35},{"s":"r7","p":0,"d":14,"v":35},{"s":"r7","p":0,"d":21,"v":35},{"s":"r7","p":0,"d":28,"v":35},{"s":"r7","p":0,"d":35,"v":35},{"s":"r7","p":0,"d":42,"v":40},{"s":"r7","p":0,"d":49,"v":40},{"s":"r7","p":0,"d":56,"v":40},{"s":"r7","p":0,"d":63,"v":40},{"s":"r7","p":0,"d":70,"v":40},{"s":"r7","p":0,"d":77,"v":40},{"s":"r7","p":0,"d":84,"v":45},{"s":"r7","p":0,"d":91,"v":45},{"s":"r7","p":0,"d":98,"v":45},{"s":"r7","p":0,"d":105,"v":45},{"s":"r7","p":0,"d":112,"v":45},{"s":"r7","p":0,"d":119,"v":45},{"s":"r7","p":0,"d":126,"v":50},{"s":"r7","p":0,"d":133,"v":45},{"s":"r7","p":0,"d":140,"v":55},{"s":"r7","p":0,"d":147,"v":55},{"s":"r7","p":0,"d":154,"v":55},{"s":"r7","p":0,"d":161,"v":55},{"s":"r7","p":0,"d":168,"v":65},{"s":"r7","p":0,"d":175,"v":60},{"s":"r7","p":0,"d":182,"v":65},{"s":"r7","p":0,"d":189,"v":65},{"s":"r7","p":0,"d":196,"v":60},{"s":"r7","p":0,"d":203,"v":60},{"s":"r7","p":0,"d":210,"v":55},{"s":"r7","p":0,"d":217,"v":60},{"s":"r7","p":0,"d":224,"v":45},{"s":"r7","p":0,"d":231,"v":45},{"s":"r7","p":0,"d":238,"v":45},{"s":"r7","p":0,"d":245,"v":45},
{"s":"r8","p":0,"d":0,"v":30},{"s":"r8","p":0,"d":7,"v":30},{"s":"r8","p":0,"d":14,"v":30},{"s":"r8","p":0,"d":21,"v":30},{"s":"r8","p":0,"d":28,"v":30},{"s":"r8","p":0,"d":35,"v":30},{"s":"r8","p":0,"d":42,"v":30},{"s":"r8","p":0,"d":49,"v":25},{"s":"r8","p":0,"d":56,"v":20},{"s":"r8","p":0,"d":63,"v":20},{"s":"r8","p":0,"d":70,"v":15},{"s":"r8","p":0,"d":77,"v":15},{"s":"r8","p":0,"d":84,"v":30},{"s":"r8","p":0,"d":91,"v":35},{"s":"r8","p":0,"d":98,"v":40},{"s":"r8","p":0,"d":105,"v":40},{"s":"r8","p":0,"d":112,"v":45},{"s":"r8","p":0,"d":119,"v":45},{"s":"r8","p":0,"d":126,"v":40},{"s":"r8","p":0,"d":133,"v":45},{"s":"r8","p":0,"d":140,"v":45},{"s":"r8","p":0,"d":147,"v":50},{"s":"r8","p":0,"d":154,"v":50},{"s":"r8","p":0,"d":161,"v":50},{"s":"r8","p":0,"d":168,"v":55},{"s":"r8","p":0,"d":175,"v":55},{"s":"r8","p":0,"d":182,"v":60},{"s":"r8","p":0,"d":189,"v":60},{"s":"r8","p":0,"d":196,"v":60},{"s":"r8","p":0,"d":203,"v":60},{"s":"r8","p":0,"d":210,"v":60},{"s":"r8","p":0,"d":217,"v":50},{"s":"r8","p":0,"d":224,"v":45},{"s":"r8","p":0,"d":231,"v":45},{"s":"r8","p":0,"d":238,"v":45},{"s":"r8","p":0,"d":245,"v":40},
{"s":"r9","p":0,"d":0,"v":30},{"s":"r9","p":0,"d":7,"v":35},{"s":"r9","p":0,"d":14,"v":40},{"s":"r9","p":0,"d":21,"v":40},{"s":"r9","p":0,"d":28,"v":40},{"s":"r9","p":0,"d":35,"v":40},{"s":"r9","p":0,"d":42,"v":40},{"s":"r9","p":0,"d":49,"v":45},{"s":"r9","p":0,"d":56,"v":50},{"s":"r9","p":0,"d":63,"v":35},{"s":"r9","p":0,"d":70,"v":30},{"s":"r9","p":0,"d":77,"v":35},{"s":"r9","p":0,"d":84,"v":40},{"s":"r9","p":0,"d":91,"v":45},{"s":"r9","p":0,"d":98,"v":40},{"s":"r9","p":0,"d":105,"v":35},
{"s":"r10","p":0,"d":42,"v":20},{"s":"r10","p":0,"d":49,"v":20},{"s":"r10","p":0,"d":56,"v":25},{"s":"r10","p":0,"d":63,"v":25},{"s":"r10","p":0,"d":70,"v":25},{"s":"r10","p":0,"d":77,"v":20},{"s":"r10","p":0,"d":84,"v":30},
{"s":"g1","p":1,"d":0,"v":20},{"s":"g1","p":1,"d":7,"v":40},{"s":"g1","p":1,"d":14,"v":60},{"s":"g1","p":1,"d":21,"v":150},{"s":"g1","p":1,"d":28,"v":400},{"s":"g1","p":1,"d":35,"v":1940},
{"s":"g2","p":1,"d":0,"v":30},{"s":"g2","p":1,"d":7,"v":50},{"s":"g2","p":1,"d":14,"v":80},{"s":"g2","p":1,"d":21,"v":200},{"s":"g2","p":1,"d":28,"v":300},{"s":"g2","p":1,"d":35,"v":660},{"s":"g2","p":1,"d":42,"v":1805},
{"s":"g3","p":1,"d":0,"v":40},{"s":"g3","p":1,"d":7,"v":60},{"s":"g3","p":1,"d":14,"v":120},{"s":"g3","p":1,"d":21,"v":480},{"s":"g3","p":1,"d":28,"v":520},{"s":"g3","p":1,"d":35,"v":670},{"s":"g3","p":1,"d":42,"v":675},
{"s":"g4","p":1,"d":0,"v":30},{"s":"g4","p":1,"d":7,"v":50},{"s":"g4","p":1,"d":14,"v":90},{"s":"g4","p":1,"d":21,"v":150},{"s":"g4","p":1,"d":28,"v":200},{"s":"g4","p":1,"d":35,"v":400},{"s":"g4","p":1,"d":42,"v":1150},
{"s":"g5","p":1,"d":0,"v":25},{"s":"g5","p":1,"d":7,"v":45},{"s":"g5","p":1,"d":14,"v":70},{"s":"g5","p":1,"d":21,"v":120},{"s":"g5","p":1,"d":28,"v":180},{"s":"g5","p":1,"d":35,"v":330},{"s":"g5","p":1,"d":42,"v":830},{"s":"g5","p":1,"d":49,"v":1370},
{"s":"g6","p":1,"d":0,"v":20},{"s":"g6","p":1,"d":7,"v":40},{"s":"g6","p":1,"d":14,"v":60},{"s":"g6","p":1,"d":21,"v":100},{"s":"g6","p":1,"d":28,"v":150},{"s":"g6","p":1,"d":35,"v":250},{"s":"g6","p":1,"d":42,"v":680},{"s":"g6","p":1,"d":49,"v":1345},
{"s":"g7","p":1,"d":0,"v":35},{"s":"g7","p":1,"d":7,"v":55},{"s":"g7","p":1,"d":14,"v":80},{"s":"g7","p":1,"d":21,"v":110},{"s":"g7","p":1,"d":28,"v":120},{"s":"g7","p":1,"d":35,"v":230},{"s":"g7","p":1,"d":42,"v":520},{"s":"g7","p":1,"d":49,"v":1470},
{"s":"g8","p":1,"d":0,"v":25},{"s":"g8","p":1,"d":7,"v":40},{"s":"g8","p":1,"d":14,"v":60},{"s":"g8","p":1,"d":21,"v":90},{"s":"g8","p":1,"d":28,"v":110},{"s":"g8","p":1,"d":35,"v":240},{"s":"g8","p":1,"d":42,"v":280},
{"s":"g9","p":1,"d":0,"v":100},{"s":"g9","p":1,"d":7,"v":80},{"s":"g9","p":1,"d":14,"v":80},{"s":"g9","p":1,"d":21,"v":80},{"s":"g9","p":1,"d":28,"v":80},{"s":"g9","p":1,"d":35,"v":80},{"s":"g9","p":1,"d":42,"v":80},{"s":"g9","p":1,"d":49,"v":75},
{"s":"g10","p":1,"d":0,"v":30},{"s":"g10","p":1,"d":7,"v":45},{"s":"g10","p":1,"d":14,"v":65},{"s":"g10","p":1,"d":21,"v":100},{"s":"g10","p":1,"d":28,"v":130},{"s":"g10","p":1,"d":35,"v":225},{"s":"g10","p":1,"d":42,"v":265},
{"s":"b1","p":2,"d":0,"v":50},{"s":"b1","p":2,"d":7,"v":60},{"s":"b1","p":2,"d":14,"v":190},{"s":"b1","p":2,"d":21,"v":300},{"s":"b1","p":2,"d":28,"v":1310},{"s":"b1","p":2,"d":35,"v":1400},
{"s":"b2","p":2,"d":0,"v":45},{"s":"b2","p":2,"d":7,"v":55},{"s":"b2","p":2,"d":14,"v":150},{"s":"b2","p":2,"d":21,"v":280},{"s":"b2","p":2,"d":28,"v":650},{"s":"b2","p":2,"d":35,"v":1420},
{"s":"b3","p":2,"d":0,"v":40},{"s":"b3","p":2,"d":7,"v":50},{"s":"b3","p":2,"d":14,"v":120},{"s":"b3","p":2,"d":21,"v":250},{"s":"b3","p":2,"d":28,"v":500},{"s":"b3","p":2,"d":35,"v":1320},
{"s":"b4","p":2,"d":0,"v":35},{"s":"b4","p":2,"d":7,"v":45},{"s":"b4","p":2,"d":14,"v":100},{"s":"b4","p":2,"d":21,"v":200},{"s":"b4","p":2,"d":28,"v":400},{"s":"b4","p":2,"d":35,"v":1175},
{"s":"b5","p":2,"d":0,"v":40},{"s":"b5","p":2,"d":7,"v":50},{"s":"b5","p":2,"d":14,"v":90},{"s":"b5","p":2,"d":21,"v":180},{"s":"b5","p":2,"d":28,"v":350},{"s":"b5","p":2,"d":35,"v":1080},
{"s":"b6","p":2,"d":0,"v":30},{"s":"b6","p":2,"d":7,"v":40},{"s":"b6","p":2,"d":14,"v":80},{"s":"b6","p":2,"d":21,"v":150},{"s":"b6","p":2,"d":28,"v":300},{"s":"b6","p":2,"d":35,"v":860},
{"s":"b7","p":2,"d":0,"v":35},{"s":"b7","p":2,"d":7,"v":45},{"s":"b7","p":2,"d":14,"v":70},{"s":"b7","p":2,"d":21,"v":120},{"s":"b7","p":2,"d":28,"v":250},{"s":"b7","p":2,"d":35,"v":640},
{"s":"b8","p":2,"d":0,"v":30},{"s":"b8","p":2,"d":7,"v":40},{"s":"b8","p":2,"d":14,"v":60},{"s":"b8","p":2,"d":21,"v":80},{"s":"b8","p":2,"d":28,"v":200},{"s":"b8","p":2,"d":35,"v":560},{"s":"b8","p":2,"d":42,"v":490},{"s":"b8","p":2,"d":49,"v":1100},
{"s":"b9","p":2,"d":0,"v":25},{"s":"b9","p":2,"d":7,"v":35},{"s":"b9","p":2,"d":14,"v":50},{"s":"b9","p":2,"d":21,"v":90},{"s":"b9","p":2,"d":28,"v":180},{"s":"b9","p":2,"d":35,"v":510},{"s":"b9","p":2,"d":42,"v":520},
{"s":"c1","p":3,"d":0,"v":60},{"s":"c1","p":3,"d":7,"v":50},{"s":"c1","p":3,"d":14,"v":80},{"s":"c1","p":3,"d":21,"v":200},{"s":"c1","p":3,"d":28,"v":520},{"s":"c1","p":3,"d":35,"v":1060},
{"s":"c2","p":3,"d":0,"v":55},{"s":"c2","p":3,"d":7,"v":45},{"s":"c2","p":3,"d":14,"v":70},{"s":"c2","p":3,"d":21,"v":180},{"s":"c2","p":3,"d":28,"v":450},{"s":"c2","p":3,"d":35,"v":880},
{"s":"c3","p":3,"d":0,"v":50},{"s":"c3","p":3,"d":7,"v":40},{"s":"c3","p":3,"d":14,"v":60},{"s":"c3","p":3,"d":21,"v":150},{"s":"c3","p":3,"d":28,"v":400},{"s":"c3","p":3,"d":35,"v":745},
{"s":"c4","p":3,"d":0,"v":45},{"s":"c4","p":3,"d":7,"v":40},{"s":"c4","p":3,"d":14,"v":50},{"s":"c4","p":3,"d":21,"v":120},{"s":"c4","p":3,"d":28,"v":350},{"s":"c4","p":3,"d":35,"v":700},
{"s":"c5","p":3,"d":0,"v":40},{"s":"c5","p":3,"d":7,"v":35},{"s":"c5","p":3,"d":14,"v":40},{"s":"c5","p":3,"d":21,"v":100},{"s":"c5","p":3,"d":28,"v":300},{"s":"c5","p":3,"d":35,"v":480},
{"s":"c6","p":3,"d":0,"v":35},{"s":"c6","p":3,"d":7,"v":30},{"s":"c6","p":3,"d":14,"v":30},{"s":"c6","p":3,"d":21,"v":50},{"s":"c6","p":3,"d":28,"v":100},{"s":"c6","p":3,"d":35,"v":150},
{"s":"c7","p":3,"d":0,"v":100},{"s":"c7","p":3,"d":7,"v":70},{"s":"c7","p":3,"d":14,"v":30},{"s":"c7","p":3,"d":21,"v":40},{"s":"c7","p":3,"d":28,"v":60},{"s":"c7","p":3,"d":35,"v":130},
{"s":"p1","p":4,"d":0,"v":50},{"s":"p1","p":4,"d":7,"v":60},{"s":"p1","p":4,"d":14,"v":180},{"s":"p1","p":4,"d":21,"v":300},{"s":"p1","p":4,"d":28,"v":940},
{"s":"p2","p":4,"d":0,"v":45},{"s":"p2","p":4,"d":7,"v":55},{"s":"p2","p":4,"d":14,"v":150},{"s":"p2","p":4,"d":21,"v":250},{"s":"p2","p":4,"d":28,"v":450},
{"s":"p3","p":4,"d":0,"v":40},{"s":"p3","p":4,"d":7,"v":50},{"s":"p3","p":4,"d":14,"v":100},{"s":"p3","p":4,"d":21,"v":180},{"s":"p3","p":4,"d":28,"v":300},
{"s":"r1","p":0,"d":0,"v":60},{"s":"r1","p":0,"d":7,"v":90},{"s":"r1","p":0,"d":14,"v":270},{"s":"r1","p":0,"d":21,"v":310},{"s":"r1","p":0,"d":28,"v":690},
{"s":"r2","p":0,"d":0,"v":50},{"s":"r2","p":0,"d":7,"v":80},{"s":"r2","p":0,"d":14,"v":150},{"s":"r2","p":0,"d":21,"v":210},{"s":"r2","p":0,"d":28,"v":580},
{"s":"r3","p":0,"d":0,"v":45},{"s":"r3","p":0,"d":7,"v":70},{"s":"r3","p":0,"d":14,"v":140},{"s":"r3","p":0,"d":21,"v":200},{"s":"r3","p":0,"d":28,"v":280},{"s":"r3","p":0,"d":35,"v":300},
{"s":"r4","p":0,"d":0,"v":70},{"s":"r4","p":0,"d":7,"v":100},{"s":"r4","p":0,"d":14,"v":260},{"s":"r4","p":0,"d":21,"v":320},{"s":"r4","p":0,"d":28,"v":500},
{"s":"r5","p":0,"d":0,"v":40},{"s":"r5","p":0,"d":7,"v":45},{"s":"r5","p":0,"d":14,"v":60},{"s":"r5","p":0,"d":21,"v":70},{"s":"r5","p":0,"d":28,"v":60},{"s":"r5","p":0,"d":35,"v":40},{"s":"r5","p":0,"d":42,"v":45},{"s":"r5","p":0,"d":49,"v":60},{"s":"r5","p":0,"d":56,"v":120},{"s":"r5","p":0,"d":63,"v":175},{"s":"r5","p":0,"d":70,"v":180},{"s":"r5","p":0,"d":77,"v":375},{"s":"r5","p":0,"d":84,"v":655},
{"s":"r6","p":0,"d":0,"v":35},{"s":"r6","p":0,"d":7,"v":40},{"s":"r6","p":0,"d":14,"v":50},{"s":"r6","p":0,"d":21,"v":55},{"s":"r6","p":0,"d":28,"v":50},{"s":"r6","p":0,"d":35,"v":45},{"s":"r6","p":0,"d":42,"v":50},{"s":"r6","p":0,"d":49,"v":70},{"s":"r6","p":0,"d":56,"v":110},{"s":"r6","p":0,"d":63,"v":120},{"s":"r6","p":0,"d":70,"v":120},{"s":"r6","p":0,"d":77,"v":120},{"s":"r6","p":0,"d":84,"v":120},{"s":"r6","p":0,"d":91,"v":135},{"s":"r6","p":0,"d":98,"v":340},{"s":"r6","p":0,"d":105,"v":860}
]
},
"vconcat":[
{
"title":{"text":"A","offset":-20,"dx":-4},
"width":616,"height":275,
"data":{"name":"A"},
"encoding":{
"x":{"field":"d","type":"ordinal","scale":{"type":"point","padding":0,"domain":[0,7,13,20,28,35,41,48,55,63,70,77,84,91,98,105,110,118,126,133,139,147,154,161]},"axis":{"values":[0,13,28,41,55,70,84,98,110,126,139,154],"labelAngle":0,"labelOverlap":false,"title":"Days","titlePadding":3}},
"y":{"field":"v","type":"quantitative","scale":{"domain":[0,2000],"nice":false,"zero":true},"axis":{"values":[0,200,400,600,800,1000,1200,1400,1600,1800,2000],"format":",.0f","title":"Tumor Volume (mm³)","titlePadding":22}},
"color":{"field":"p","type":"nominal","scale":{"domain":[0,1,2,3,4,5,6],"range":["#ec2227","#1d9a4a","#3a4ca0","#28aae1","#c754ad","#f2e61c","#f7a35a"]},
"legend":{"title":null,"legendX":11,"legendY":0,"labelExpr":"'Passage ' + datum.label"}}
},
"layer":[
{"mark":{"type":"line","strokeWidth":1},"encoding":{"detail":{"field":"s"}}},
{"mark":{"type":"point","filled":true,"size":26,"opacity":1},"encoding":{"shape":{"field":"p","type":"nominal","legend":null,"scale":{"domain":[0,1,2,3,4,5,6],"range":["square","diamond","triangle-up","circle","M-1,-0.3H1V0.3H-1Z","square","diamond"]}}}},
{"data":{"values":[{"t":"PDX-SCC-M0"}]},"mark":{"type":"text","fontSize":17,"font":"Liberation Sans","dx":5,"baseline":"middle"},"encoding":{"x":{"datum":77,"type":"ordinal"},"y":{"datum":1975,"type":"quantitative"},"text":{"field":"t"},"color":{"value":"#000"}}}
]
},
{
"title":{"text":"B","offset":-3,"dx":-6},
"width":616,"height":269,
"data":{"name":"B"},
"encoding":{
"x":{"field":"d","type":"ordinal","scale":{"type":"point","padding":0,"domain":[0,7,14,21,28,35,42,49,56,63,70,77,84,91,98,105,113,120,127,134,140,147,154,161,168,176,183,190,197,204,210,217,224,231,238,245,252,259,266]},"axis":{"values":[0,14,28,42,56,70,84,98,113,127,140,154,168,183,197,210,224,238,252,266],"labelAngle":0,"labelOverlap":false,"title":"Days","titlePadding":3}},
"y":{"field":"v","type":"quantitative","scale":{"domain":[0,2000],"nice":false,"zero":true},"axis":{"values":[0,200,400,600,800,1000,1200,1400,1600,1800,2000],"format":",.0f","title":"Tumor Volume (mm³)","titlePadding":24}},
"color":{"field":"p","type":"nominal","scale":{"domain":[0,1,2,3,4],"range":["#ec2227","#1d8f40","#34469e","#29abe2","#c754ad"]},
"legend":{"title":null,"legendX":5,"legendY":-3,"labelExpr":"'Passage ' + datum.label"}}
},
"layer":[
{"mark":{"type":"line","strokeWidth":1.8},"encoding":{"detail":{"field":"s"}}},
{"mark":{"type":"point","filled":true,"size":34,"opacity":1},"encoding":{"shape":{"field":"p","type":"nominal","legend":null,"scale":{"domain":[0,1,2,3,4],"range":["square","diamond","triangle-up","circle","M-1,-0.3H1V0.3H-1Z"]}}}},
{"data":{"values":[{"t":"PDX-SCC-M1"}]},"mark":{"type":"text","fontSize":17,"font":"Liberation Sans","dx":-4,"baseline":"middle"},"encoding":{"x":{"datum":134,"type":"ordinal"},"y":{"datum":1915,"type":"quantitative"},"text":{"field":"t"},"color":{"value":"#000"}}}
]
},
{
"title":{"text":"C","offset":-11,"dx":-6},
"width":618,"height":278,
"data":{"name":"C"},
"encoding":{
"x":{"field":"d","type":"ordinal","scale":{"type":"point","padding":0,"domain":[0,7,14,21,28,35,42,49,56,63,70,77,84,91,98,105,112,119,126,133,140,147,154,161,168,175,182,189,196,203,210,217,224,231,238,245]},"axis":{"values":[0,14,28,42,56,70,84,98,112,126,140,154,168,182,196,210,224,238],"labelAngle":0,"labelOverlap":false,"title":"Days","titlePadding":1}},
"y":{"field":"v","type":"quantitative","scale":{"domain":[0,2000],"nice":false,"zero":true},"axis":{"values":[0,200,400,600,800,1000,1200,1400,1600,1800,2000],"format":"d","title":"Tumor Volume (mm³)","titlePadding":26}},
"color":{"field":"p","type":"nominal","scale":{"domain":[0,1,2,3,4],"range":["#e9262b","#2fb050","#2466b1","#3cc3cf","#ef78a0"]},
"legend":{"title":null,"legendX":10,"legendY":0,"labelExpr":"'Passage ' + datum.label"}}
},
"layer":[
{"mark":{"type":"line","strokeWidth":1},"encoding":{"detail":{"field":"s"}}},
{"mark":{"type":"point","filled":true,"size":30,"opacity":1},"encoding":{"shape":{"field":"p","type":"nominal","legend":null,"scale":{"domain":[0,1,2,3,4],"range":["square","diamond","triangle-up","circle","M-1,-0.3H1V0.3H-1Z"]}}}},
{"data":{"values":[{"t":"UM-PDX-HACC-5"}]},"mark":{"type":"text","fontSize":16,"font":"Liberation Sans","dx":6,"baseline":"middle"},"encoding":{"x":{"datum":119,"type":"ordinal"},"y":{"datum":1955,"type":"quantitative"},"text":{"field":"t"},"color":{"value":"#000"}}}
]
}
]
}
